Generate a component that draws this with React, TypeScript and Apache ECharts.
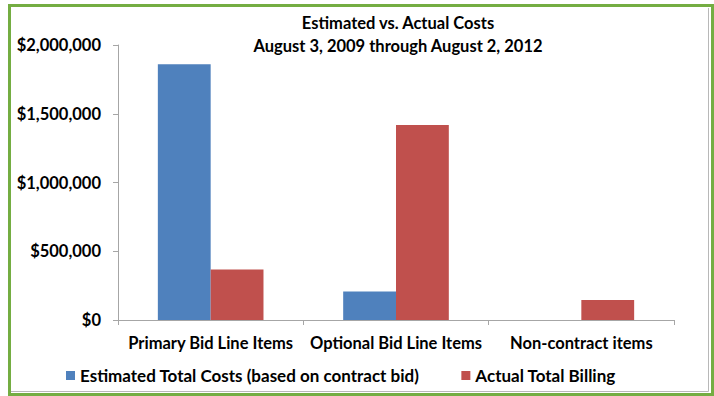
import React, { useEffect, useRef } from "react";
import * as echarts from "echarts";

const categories = ["Primary Bid Line Items", "Optional Bid Line Items", "Non-contract items"];
const estimatedCosts = [1860000, 208000, 0];
const actualBilling = [368000, 1418000, 145000];
const seriesNames = ["Estimated Total Costs (based on contract bid)", "Actual Total Billing"];
const titleLines = ["Estimated vs. Actual Costs", "August 3, 2009 through August 2, 2012"];

const FONT = "Lato, 'Open Sans', sans-serif";
const FS = 16.5;

export default function App() {
  const ref = useRef<HTMLDivElement>(null);
  useEffect(() => {
    if (!ref.current) return;
    const chart = echarts.init(ref.current, null, { renderer: "svg" });
    chart.setOption({
      animation: false,
      backgroundColor: "#ffffff",
      textStyle: { fontFamily: FONT },
      grid: { left: 118, right: 40, top: 45, bottom: 76, containLabel: false },
      graphic: [
        {
          type: "rect",
          shape: { x: 9.5, y: 5.5, width: 703, height: 389 },
          style: { fill: "none", stroke: "#74ad42", lineWidth: 3 },
          silent: true,
        },
        {
          type: "polyline",
          shape: { points: [[11, 391.5], [708.5, 391.5], [708.5, 8]] },
          style: { fill: "none", stroke: "#b8b8b8", lineWidth: 1 },
          silent: true,
        },
        {
          type: "text",
          x: 398,
          y: 23,
          style: {
            text: titleLines[0],
            fontFamily: FONT,
            fontSize: FS,
            fontWeight: "bold",
            fill: "#000",
            align: "center",
            verticalAlign: "middle",
          },
        },
        {
          type: "text",
          x: 398,
          y: 46,
          style: {
            text: titleLines[1],
            fontFamily: FONT,
            fontSize: FS,
            fontWeight: "bold",
            fill: "#000",
            align: "center",
            verticalAlign: "middle",
          },
        },
      ],
      legend: {
        left: 61,
        top: 362,
        itemWidth: 9,
        itemHeight: 9,
        itemGap: 42,
        icon: "rect",
        textStyle: { fontFamily: FONT, fontSize: 17, fontWeight: "bold", color: "#000" },
        data: seriesNames,
      },
      xAxis: {
        type: "category",
        data: categories,
        axisLine: { lineStyle: { color: "#a6a6a6" } },
        axisTick: { show: true, length: 5, lineStyle: { color: "#a6a6a6" } },
        axisLabel: {
          interval: 0,
          color: "#000",
          fontFamily: FONT,
          fontSize: FS,
          fontWeight: "bold",
          margin: 14,
        },
      },
      yAxis: {
        type: "value",
        min: 0,
        max: 2000000,
        interval: 500000,
        splitLine: { show: false },
        axisLine: { show: true, lineStyle: { color: "#a6a6a6" } },
        axisTick: { show: true, length: 5, lineStyle: { color: "#a6a6a6" } },
        axisLabel: {
          color: "#000",
          fontFamily: FONT,
          fontSize: FS,
          fontWeight: "bold",
          margin: 17,
          formatter: (v: number) => "$" + v.toLocaleString("en-US"),
        },
      },
      series: [
        {
          name: seriesNames[0],
          type: "bar",
          data: estimatedCosts,
          barGap: "0%",
          barCategoryGap: "43%",
          itemStyle: { color: "#4f81bd" },
        },
        {
          name: seriesNames[1],
          type: "bar",
          data: actualBilling,
          barGap: "0%",
          barCategoryGap: "43%",
          itemStyle: { color: "#c0504d" },
        },
      ],
    });
    return () => chart.dispose();
  }, []);
  return (
    <div
      ref={ref}
      style={{ position: "absolute", left: 0, top: 0, width: 714, height: 396 }}
    />
  );
}
